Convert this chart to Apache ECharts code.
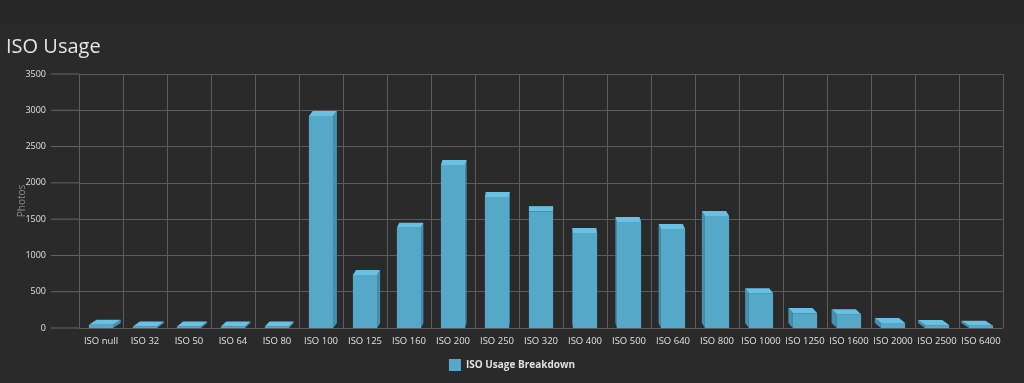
<!DOCTYPE html>
<html>
<head>
<meta charset="utf-8">
<script src="https://cdn.jsdelivr.net/npm/echarts@6/dist/echarts.min.js"></script>
<style>html,body{margin:0;padding:0;background:#2a2a2a;}#c{width:1024px;height:383px;}</style>
</head>
<body>
<div id="c"></div>
<script>
const categories = ['ISO null','ISO 32','ISO 50','ISO 64','ISO 80','ISO 100','ISO 125','ISO 160','ISO 200','ISO 250','ISO 320','ISO 400','ISO 500','ISO 640','ISO 800','ISO 1000','ISO 1250','ISO 1600','ISO 2000','ISO 2500','ISO 6400'];
const photos = [45, 15, 20, 15, 15, 2920, 730, 1380, 2245, 1805, 1610, 1310, 1460, 1365, 1545, 480, 205, 190, 70, 40, 30];
const yTicks = [0, 500, 1000, 1500, 2000, 2500, 3000, 3500];
const seriesName = 'ISO Usage Breakdown';

const chart = echarts.init(document.getElementById('c'));
const FRONT = '#55a8c8', SIDE = '#4690ae', TOP = '#68c0e2';

function renderBar(params, api) {
  const idx = api.value(0), v = api.value(1);
  const base = api.coord([idx, 0]);
  const top = api.coord([idx, v]);
  const cs = params.coordSys;
  const bw = api.size([1, 0])[0] * 0.55;
  const cx = base[0];
  const L = cx - bw / 2, R = cx + bw / 2;
  const mid = cs.x + cs.width / 2;
  const dx = -(cx - mid) / (cs.width / 2) * 8;
  const dy = -5;
  let ty = top[1], by = base[1];
  if (by - ty < 1.5) ty = by - 1.5;
  const children = [];
  if (dx >= 0) {
    children.push({type:'polygon', shape:{points:[[R,ty],[R+dx,ty+dy],[R+dx,by+dy],[R,by]]}, style:{fill:SIDE}});
  } else {
    children.push({type:'polygon', shape:{points:[[L,ty],[L+dx,ty+dy],[L+dx,by+dy],[L,by]]}, style:{fill:SIDE}});
  }
  children.push({type:'rect', shape:{x:L, y:ty, width:bw, height:by-ty}, style:{fill:FRONT}});
  children.push({type:'polygon', shape:{points:[[L,ty],[R,ty],[R+dx,ty+dy],[L+dx,ty+dy]]}, style:{fill:TOP}});
  return {type:'group', children};
}

// y tick labels + connector ticks, positioned through the value axis scale
function renderYTick(params, api) {
  const val = api.value(1);
  const p = api.coord([0, val]);
  const cs = params.coordSys;
  const x0 = cs.x;
  return {type:'group', children: [
    {type:'line', shape:{x1:x0 - 28, y1:p[1], x2:x0, y2:p[1]}, style:{stroke:'#666666', lineWidth:1}},
    {type:'text', x: x0 - 33, y: p[1], style:{text:String(val), fill:'#e0e0e0', fontSize:9,
      fontFamily:'Open Sans', align:'right', verticalAlign:'middle'}}
  ]};
}

chart.setOption({
  backgroundColor: '#2a2a2a',
  animation: false,
  graphic: [{type:'rect', left:0, top:0, shape:{width:1024, height:24}, style:{fill:'#262626'}, z:-10}],
  title: {
    text: 'ISO Usage', left: 1, top: 32,
    textStyle: {color:'#e6e6e6', fontSize:20, fontWeight:'normal', fontFamily:'Open Sans'}
  },
  legend: {
    data: [seriesName], bottom: 7, left: 'center', icon: 'rect', itemWidth: 12, itemHeight: 12, itemGap: 5,
    textStyle: {color:'#e0e0e0', fontSize:10, fontWeight:'bold', fontFamily:'Open Sans'}
  },
  grid: {left: 79, right: 21, top: 74, bottom: 55},
  xAxis: {
    type: 'category', data: categories, boundaryGap: true,
    axisLine: {show: false}, axisTick: {show: false},
    axisLabel: {color:'#e0e0e0', fontSize:9.5, fontFamily:'Open Sans', margin:8, interval:0},
    splitLine: {show: true, interval: 0, lineStyle: {color:'#5c5c5c', width:1}}
  },
  yAxis: {
    type: 'value', min: 0, max: 3500, interval: 500,
    name: 'Photos', nameLocation: 'middle', nameGap: 52, nameRotate: 90, nameMoveOverlap: false,
    nameTextStyle: {color:'#8a8a8a', fontSize:10, fontFamily:'Open Sans'},
    axisLine: {show: false}, axisTick: {show: false},
    axisLabel: {show: false},
    splitLine: {show: true, lineStyle: {color:'#5c5c5c', width:1}}
  },
  series: [{
    name: seriesName, type: 'custom', renderItem: renderBar,
    itemStyle: {color: FRONT},
    encode: {x: 0, y: 1},
    data: photos.map((v, i) => [i, v])
  }, {
    name: 'yTicks', type: 'custom', renderItem: renderYTick, clip: false, silent: true,
    encode: {x: 0, y: 1},
    data: yTicks.map((t) => [0, t])
  }]
});
</script>
</body>
</html>
